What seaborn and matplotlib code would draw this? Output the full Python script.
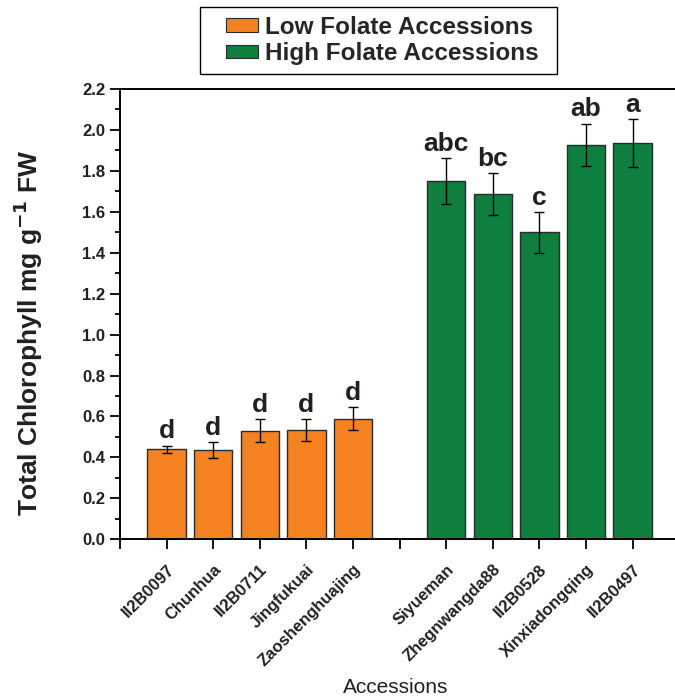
import matplotlib
matplotlib.use("Agg")
import matplotlib.pyplot as plt
from matplotlib.patches import Patch, Rectangle
from matplotlib.ticker import MultipleLocator, FormatStrFormatter
import numpy as np
import pandas as pd
import seaborn as sns

sns.set_theme(style="ticks", context="notebook")
plt.rcParams["font.family"] = ["Liberation Sans", "DejaVu Sans"]

ORANGE = "#F58220"
GREEN = "#0E7F3E"
INK = "#231f20"

low_names = ["II2B0097", "Chunhua", "II2B0711", "Jingfukuai", "Zaoshenghuajing"]
low_means = [0.440, 0.435, 0.530, 0.533, 0.590]
low_errs = [0.018, 0.038, 0.057, 0.055, 0.057]
low_letters = ["d", "d", "d", "d", "d"]

high_names = ["Siyueman", "Zhegnwangda88", "II2B0528", "Xinxiadongqing", "II2B0497"]
high_means = [1.750, 1.687, 1.500, 1.928, 1.936]
high_errs = [0.112, 0.102, 0.100, 0.103, 0.115]
high_letters = ["abc", "bc", "c", "ab", "a"]

low_pos = [1, 2, 3, 4, 5]
high_pos = [7, 8, 9, 10, 11]

df = pd.DataFrame({
    "pos": low_pos + high_pos,
    "name": low_names + high_names,
    "chl": low_means + high_means,
    "err": low_errs + high_errs,
    "letter": low_letters + high_letters,
    "group": ["Low Folate Accessions"] * 5 + ["High Folate Accessions"] * 5,
})

fig = plt.figure(figsize=(6.75, 6.99), dpi=100)
ax = fig.add_axes([120 / 675, 1 - 539.3 / 699, 555 / 675, (539.3 - 89) / 699])

sns.barplot(data=df, x="pos", y="chl", hue="group", native_scale=True, dodge=False,
            width=0.82, errorbar=None, legend=False,
            palette={"Low Folate Accessions": ORANGE, "High Folate Accessions": GREEN},
            edgecolor="#2a2a2a", linewidth=1.0, saturation=1, ax=ax)

ax.errorbar(df["pos"], df["chl"], yerr=df["err"], fmt="none", ecolor="black",
            elinewidth=1.0, capsize=3.5, capthick=1.0)

for _, row in df.iterrows():
    ax.text(row.pos, row.chl + row.err + 0.035, row.letter, ha="center", va="baseline",
            fontsize=19, fontweight="bold", color=INK)

ax.set_xlim(0, 11.91)
ax.set_ylim(0, 2.2)
ax.yaxis.set_major_locator(MultipleLocator(0.2))
ax.yaxis.set_minor_locator(MultipleLocator(0.1))
ax.yaxis.set_major_formatter(FormatStrFormatter("%.1f"))

ax.set_xticks(range(0, 12))
labels = [""] * 12
for p, n in zip(df["pos"], df["name"]):
    labels[p] = n
ax.set_xticklabels(labels, rotation=45, ha="right", rotation_mode="anchor",
                   fontsize=12, fontweight="bold", color=INK)
for lab in ax.get_yticklabels():
    lab.set_fontweight("bold")
    lab.set_fontsize(12)
    lab.set_color(INK)

ax.tick_params(axis="both", which="major", direction="out", length=7, width=1.3,
               color="black")
ax.tick_params(axis="y", which="minor", direction="out", length=3.5, width=1.3,
               color="black")
ax.tick_params(axis="x", pad=9)

for side in ["left", "bottom", "top"]:
    ax.spines[side].set_linewidth(1.4)
    ax.spines[side].set_color("black")
ax.spines["right"].set_visible(False)

ax.set_xlabel("Accessions", fontsize=15, color=INK)
ax.set_ylabel("Total Chlorophyll mg g$^{\\mathbf{-1}}$ FW", fontsize=19,
              fontweight="bold", color=INK)
ax.yaxis.set_label_coords(-0.135, 0.458)
ax.xaxis.set_label_coords(0.497, -0.309)

handles = [Patch(facecolor=ORANGE, edgecolor="#2a2a2a", linewidth=0.8),
           Patch(facecolor=GREEN, edgecolor="#2a2a2a", linewidth=0.8)]
fig.legend(handles, ["Low Folate Accessions", "High Folate Accessions"],
           loc="center", bbox_to_anchor=(382.5 / 675, 1 - 40.5 / 699),
           frameon=False, prop={"weight": "bold", "size": 17.5},
           handlelength=1.3, handleheight=0.45, handletextpad=0.3,
           labelspacing=0.15, borderpad=0.35)
fig.patches.append(Rectangle((200 / 675, 1 - 74 / 699), 357 / 675, 67 / 699,
                             transform=fig.transFigure, fill=False,
                             edgecolor="black", linewidth=1.0))

fig.savefig("out.png", dpi=100)
